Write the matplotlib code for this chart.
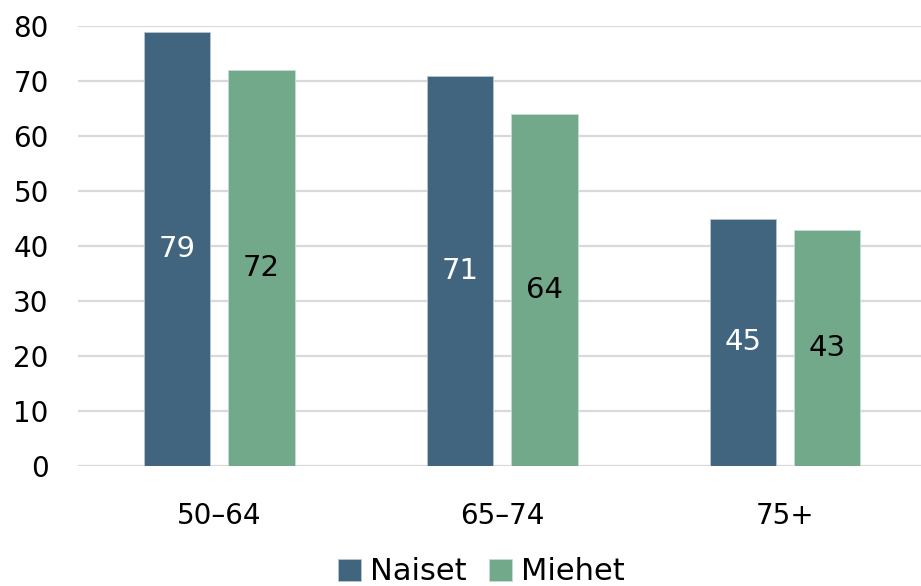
import numpy as np
import matplotlib
matplotlib.use("Agg")
import matplotlib.pyplot as plt

# ── Data ──────────────────────────────────────────────────────────────────────
groups  = ["50–64", "65–74", "75+"]
naiset  = [79, 71, 45]
miehet  = [72, 64, 43]
yticks  = [0, 10, 20, 30, 40, 50, 60, 70, 80]

C_NAISET = "#41647F"
C_MIEHET = "#72A98A"
FONT = "DejaVu Sans"
FS = 20

plt.rcParams["font.family"] = FONT

fig = plt.figure(figsize=(9.21, 5.86), dpi=100)
ax = fig.add_axes([78 / 921, 1 - 466 / 586, 1 - 78 / 921, 440 / 586])

x = np.arange(len(groups))
w = 0.234
off = 0.149
b1 = ax.bar(x - off, naiset, w, color=C_NAISET, edgecolor="#B8C6D2",
            linewidth=0.6, label="Naiset", zorder=3)
b2 = ax.bar(x + off, miehet, w, color=C_MIEHET, edgecolor="#C6DDD0",
            linewidth=0.6, label="Miehet", zorder=3)

# value labels in the middle of each bar
for rect, v in zip(b1, naiset):
    ax.text(rect.get_x() + rect.get_width() / 2, v / 2, str(v),
            ha="center", va="center", color="white", fontsize=FS + 1, zorder=4)
for rect, v in zip(b2, miehet):
    ax.text(rect.get_x() + rect.get_width() / 2, v / 2, str(v),
            ha="center", va="center", color="black", fontsize=FS + 1, zorder=4)

ax.set_xlim(-0.5, 2.48)
ax.set_ylim(0, 80)
ax.set_yticks(yticks)
ax.set_xticks(x)
ax.set_xticklabels(groups)
ax.tick_params(axis="both", length=0, labelsize=FS, labelcolor="black")
ax.tick_params(axis="y", pad=21)
ax.tick_params(axis="x", pad=26)
ax.yaxis.grid(True, color="#D9D9D9", linewidth=1.6, zorder=0)
ax.set_axisbelow(True)
for s in ax.spines.values():
    s.set_visible(False)

fig.legend(handles=[b1, b2], labels=["Naiset", "Miehet"], loc="center",
           bbox_to_anchor=(0.5 + 21 / 921, 1 - 572 / 586), ncol=2, frameon=False,
           fontsize=FS + 2, handlelength=0.75, handleheight=0.75,
           handletextpad=0.3, columnspacing=0.75, borderaxespad=0)

fig.savefig("out.png", dpi=100)
